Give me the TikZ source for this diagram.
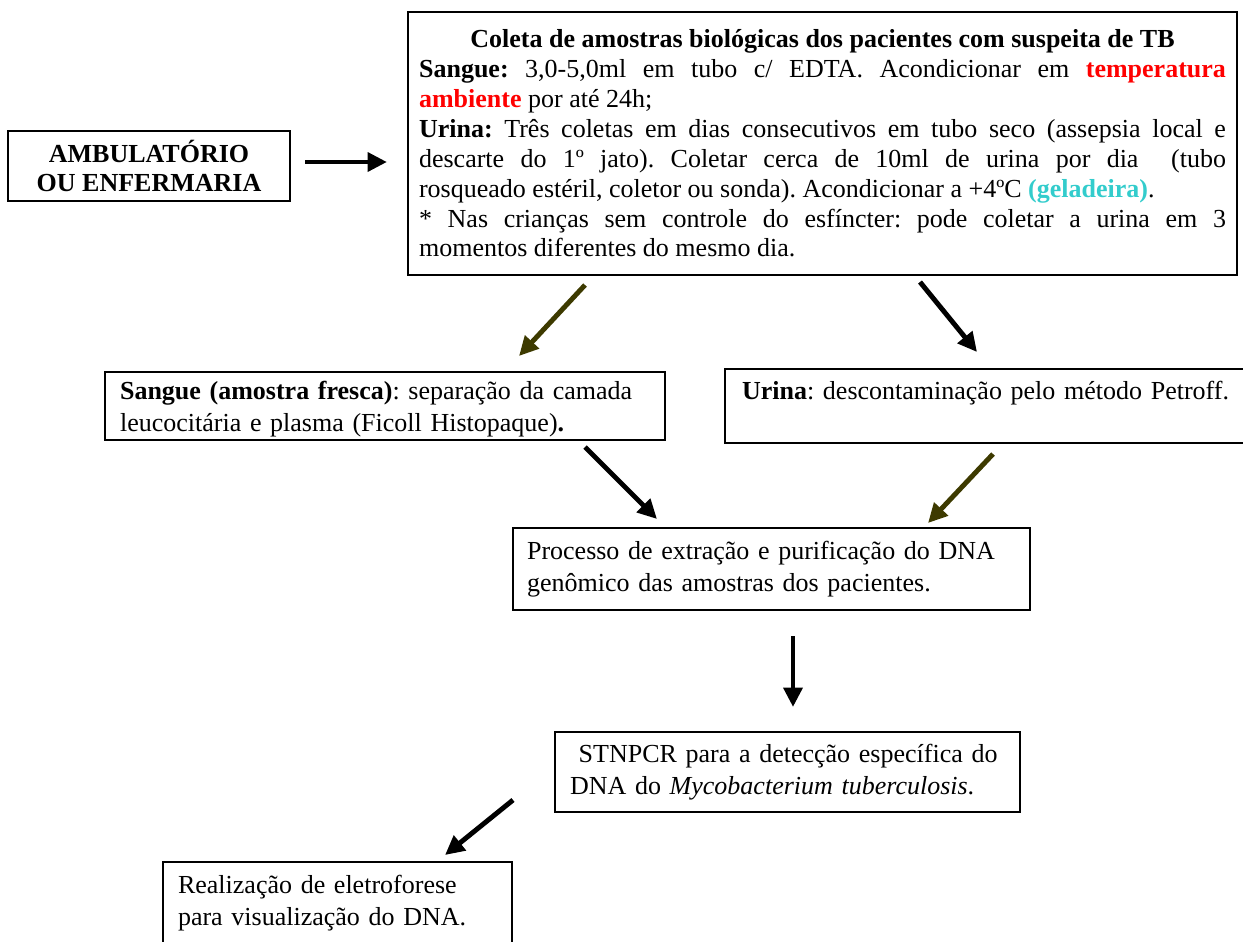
\documentclass[tikz,border=0pt]{standalone}
\usepackage{fontspec}
\setmainfont{Liberation Serif}
\usetikzlibrary{arrows.meta}
\frenchspacing

\definecolor{arrowolive}{HTML}{3D3A00}
\definecolor{fridgecyan}{HTML}{33CCCC}

\tikzset{
  box/.style={draw, line width=1pt, inner ysep=0pt, font=\fontsize{14.8}{18}\selectfont},
  flowarrow/.style={line width=2.8pt, -{Triangle[length=11pt,width=10.5pt]}},
}

\begin{document}
\begin{tikzpicture}[x=0.02cm, y=-0.02cm]
\useasboundingbox (0,0) rectangle (1243,941);
\clip (0,0) rectangle (1243,941);

\node[box, minimum width=5.64cm, minimum height=1.4cm, align=center,
  font=\fontsize{14.8}{16}\selectfont\bfseries] (amb) at (149,166) {AMBULATÓRIO\\OU ENFERMARIA};

\node[box, minimum width=16.58cm, minimum height=5.26cm, inner xsep=0.22cm, text width=16.14cm, align=justify,
  font=\fontsize{14.8}{17}\selectfont] (coleta) at (822.5,143.5) {%
{\centering\textbf{Coleta de amostras biológicas dos pacientes com suspeita de TB}\par}
\textbf{Sangue:} 3,0-5,0ml em tubo c/ EDTA. Acondicionar em \textcolor{red}{\textbf{temperatura}}\linebreak
\textcolor{red}{\textbf{ambiente}} por até 24h;\par
\textbf{Urina:} Três coletas em dias consecutivos em tubo seco (assepsia local e\linebreak
descarte do 1º jato). Coletar cerca de 10ml de urina por dia\ \ (tubo\linebreak
rosqueado estéril, coletor ou sonda). Acondicionar a +4ºC \textcolor{fridgecyan}{\textbf{(geladeira)}}.\par
* Nas crianças sem controle do esfíncter: pode coletar a urina em 3\linebreak
momentos diferentes do mesmo dia.};

\node[box, minimum width=11.2cm, minimum height=1.36cm, inner xsep=0.3cm, text width=10.6cm, align=left] (sangue) at (385,406)
  {\rule{0pt}{14pt}\textbf{Sangue (amostra fresca)}: separação da camada\\leucocitária e plasma (Ficoll Histopaque)\textbf{.}};
\node[box, minimum width=10.68cm, minimum height=1.48cm, inner xsep=0.34cm, text width=10cm, align=left] (urina) at (992,406)
  {\textbf{Urina}: descontaminação pelo método Petroff.\\\mbox{}};

\node[box, minimum width=10.34cm, minimum height=1.64cm, inner xsep=0.28cm, text width=9.78cm, align=left] (extracao) at (771.5,569)
  {Processo de extração e purificação do DNA\\genômico das amostras dos pacientes.};
\node[box, minimum width=9.3cm, minimum height=1.6cm, inner xsep=0.3cm, text width=8.7cm, align=left] (stnpcr) at (787.5,772)
  {\ STNPCR para a detecção específica do\\DNA do \textit{Mycobacterium tuberculosis}.};
\node[box, minimum width=6.98cm, minimum height=1.64cm, inner xsep=0.3cm, text width=6.38cm, align=left] (eletro) at (337.5,903)
  {Realização de eletroforese\\para visualização do DNA.};

\coordinate (a1s) at (305,162);
\coordinate (a1e) at (387,162);
\coordinate (a2s) at (585,285);
\coordinate (a2e) at (519,356);
\coordinate (a3s) at (920,282);
\coordinate (a3e) at (977,352);
\coordinate (a4s) at (585,447);
\coordinate (a4e) at (657,519);
\coordinate (a5s) at (993,454);
\coordinate (a5e) at (928,523);
\coordinate (a6s) at (793,636);
\coordinate (a6e) at (793,707);
\coordinate (a7s) at (513,800);
\coordinate (a7e) at (445,855);

\draw[flowarrow] (a1s) -- (a1e);
\draw[flowarrow, arrowolive] (a2s) -- (a2e);
\draw[flowarrow] (a3s) -- (a3e);
\draw[flowarrow] (a4s) -- (a4e);
\draw[flowarrow, arrowolive] (a5s) -- (a5e);
\draw[flowarrow] (a6s) -- (a6e);
\draw[flowarrow] (a7s) -- (a7e);
\end{tikzpicture}
\end{document}
